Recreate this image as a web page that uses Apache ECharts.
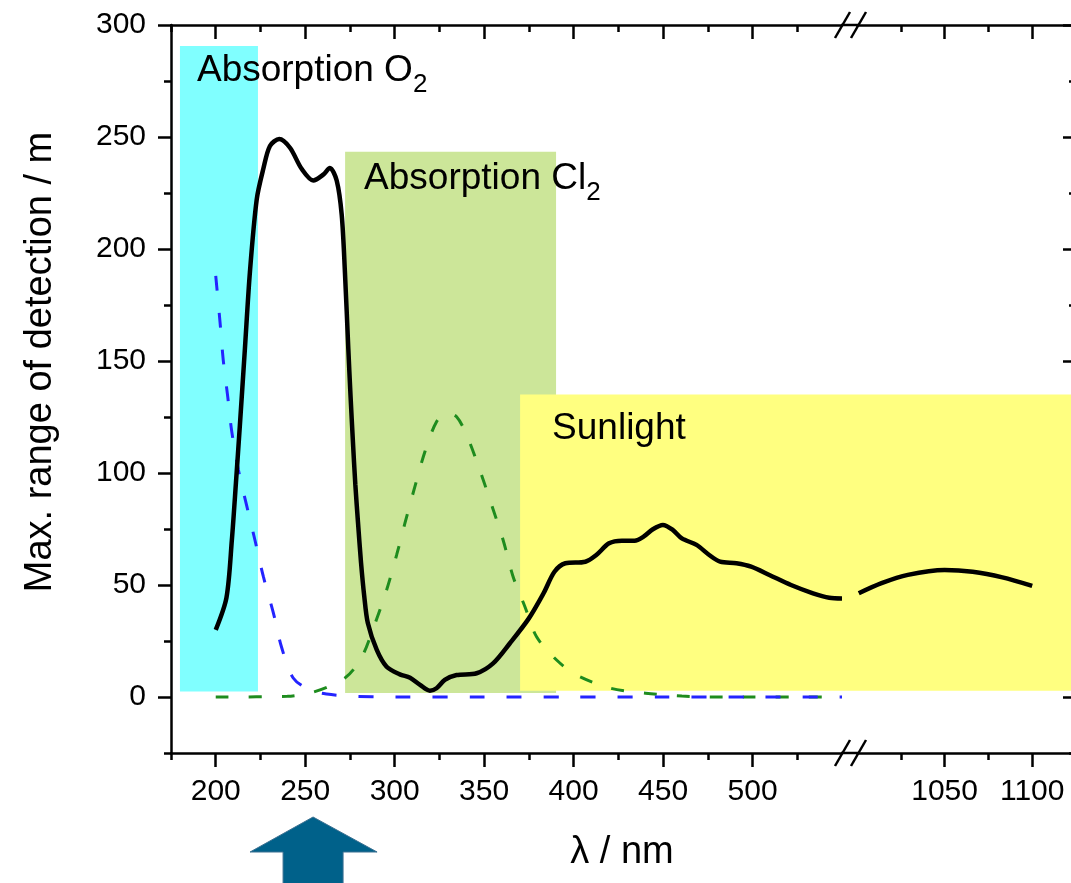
<!DOCTYPE html>
<html><head><meta charset="utf-8">
<script src="https://cdn.jsdelivr.net/npm/echarts@6/dist/echarts.min.js"></script>
<style>html,body{margin:0;padding:0;background:#fff}#c{width:1071px;height:883px}</style>
</head><body><div id="c"></div>
<script>
// ---------- data ----------
const blackLeftX = [200, 206, 209, 211.3, 213.5, 216.3, 219.1, 222.9, 226.6, 230.3, 235.5, 241.5, 248, 254.5, 260.1, 263.8, 267.6, 270.4, 272.2, 274.1, 275.3, 276.6, 278, 279.5, 281.2, 283, 285, 290, 295.5, 302.9, 308.6, 314.2, 319.7, 323.4, 328, 334.6, 345.8, 355, 364.4, 375, 383.2, 389.3, 395.4, 406.6, 412.7, 419.8, 427, 434.1, 439.1, 444.3, 449.9, 455.4, 460.5, 468.7, 475.8, 481.9, 491, 499.2, 509.4, 521.5, 533.8, 542.9, 550];
const blackLeftY = [30, 44.4, 70, 95.7, 121.4, 155.4, 189.7, 222.1, 235.8, 246, 249.1, 245.2, 235.8, 230.6, 233.2, 236.2, 230.6, 215.3, 189.7, 155.4, 135, 115, 95, 78, 60, 45, 33, 21, 13.5, 10.1, 8.6, 5.4, 2.8, 3.9, 7.6, 9.8, 10.6, 15, 24, 35.1, 46.3, 55.9, 59.7, 60.4, 63.4, 68.6, 69.8, 69.8, 71.6, 74.9, 76.8, 74.6, 70.8, 67.9, 63.4, 60.4, 59.7, 58.2, 54.5, 50, 46.3, 44.3, 44];
const blackRightX = [1001, 1014, 1029, 1050, 1066, 1083, 1100];
const blackRightY = [46.3, 50.8, 54.5, 56.7, 55.9, 53.4, 49.6];
const blueX = [200, 202.4, 204.2, 206.7, 208.9, 212.6, 217.3, 221.9, 226.6, 232.2, 236.8, 243.3, 252.6, 262, 275, 300, 350, 400, 450, 500, 550];
const blueY = [188, 167.4, 150.4, 134.1, 118.8, 101.7, 85.4, 70.1, 53.8, 37.6, 22.2, 8.5, 3.1, 1.3, 0.4, 0, 0, 0, 0, 0, 0];
const greenX = [200, 240, 252.7, 263.8, 272.2, 276.8, 282.4, 288, 295.5, 301.1, 305.7, 311.3, 316.9, 323.4, 329, 334.6, 340.2, 347.6, 354.2, 360.6, 366.2, 372.8, 379.3, 390.5, 401.6, 420.8, 440.2, 460.5, 480, 500, 550];
const greenY = [0, 0.3, 1.8, 4.9, 8.5, 12.1, 19, 30.5, 47.8, 63.4, 77.5, 93.9, 109.5, 122.9, 126.7, 125.1, 117, 101.3, 85.7, 70.1, 53.7, 40.3, 26.9, 16.5, 9.8, 3.9, 1.7, 0.4, 0, 0, 0];
// shaded bands: [xStart, xEnd, yBottom, yTop]
const o2Band = [180, 223.6, 2.5, 290.6];
const cl2Band = [272.3, 390.2, 1.8, 243.4];
const sunBand = [370.1, 1130, 2.8, 135];
// tick values
const leftMajorTicks = [200, 250, 300, 350, 400, 450, 500];
const leftMinorTicks = [175, 225, 275, 325, 375, 425, 475, 525];
const rightMajorTicks = [1050, 1100];
const rightMinorTicks = [1025, 1075];
const yMajorTicks = [0, 50, 100, 150, 200, 250, 300];
const yMinorTicks = [-25, 25, 75, 125, 175, 225, 275];
const arrowAt = 254.4;

// ---------- layout / style ----------
const FF = '"Liberation Sans", Arial, Helvetica, sans-serif';
const G1 = {left: 171, top: 25, width: 671, height: 728};
const G2 = {left: 857, top: 25, width: 219, height: 728};
const BREAK_GAP = G2.left - (G1.left + G1.width);
const AXW = 2.5;
const zip = (a, b) => a.map((v, i) => [v, b[i]]);

function axisDef(kind, grid, pos, min, max, ticks, len, inside, showLine, showLabels) {
  return {
    type: 'value', gridIndex: grid, position: pos, min: min, max: max,
    axisLine: {show: showLine, onZero: false, lineStyle: {color: '#000', width: AXW}},
    axisTick: {show: true, inside: inside, length: len, customValues: ticks, lineStyle: {color: '#000', width: AXW}},
    axisLabel: {show: showLabels, customValues: ticks, margin: kind === 'x' ? 24 : 25,
      fontSize: 30, fontFamily: FF, color: '#000', formatter: function (v) { return String(v); }},
    splitLine: {show: false}, minorTick: {show: false}
  };
}

const RICH = {
  n: {fontSize: 37, fontFamily: FF, color: '#000'},
  s: {fontSize: 26, fontFamily: FF, color: '#000', padding: [28, 0, 0, 0]}
};
const bandLabel = (fmt, off) => ({show: true, position: 'insideTopLeft', distance: 0, offset: off,
  formatter: fmt, rich: RICH, color: '#000'});

const chart = echarts.init(document.getElementById('c'), null, {renderer: 'canvas'});
const option = {
  animation: false,
  backgroundColor: '#fff',
  grid: [Object.assign({outerBoundsMode: 'none', containLabel: false}, G1),
         Object.assign({outerBoundsMode: 'none', containLabel: false}, G2)],
  xAxis: [
    axisDef('x', 0, 'bottom', 175, 550, leftMajorTicks, 14, false, true, true),
    axisDef('x', 0, 'bottom', 175, 550, leftMinorTicks, 7, false, false, false),
    axisDef('x', 0, 'top', 175, 550, leftMajorTicks, 14, true, true, false),
    axisDef('x', 0, 'top', 175, 550, leftMinorTicks, 7, true, false, false),
    axisDef('x', 1, 'bottom', 1000, 1125, rightMajorTicks, 14, false, true, true),
    axisDef('x', 1, 'bottom', 1000, 1125, rightMinorTicks, 7, false, false, false),
    axisDef('x', 1, 'top', 1000, 1125, rightMajorTicks, 14, true, true, false),
    axisDef('x', 1, 'top', 1000, 1125, rightMinorTicks, 7, true, false, false)
  ],
  yAxis: [
    axisDef('y', 0, 'left', -25, 300, yMajorTicks, 13, false, true, true),
    axisDef('y', 0, 'left', -25, 300, yMinorTicks, 7, false, false, false),
    axisDef('y', 1, 'right', -25, 300, yMajorTicks, 13, true, true, false),
    axisDef('y', 1, 'right', -25, 300, yMinorTicks, 7, true, false, false)
  ],
  series: [
    {
      type: 'line', xAxisIndex: 0, yAxisIndex: 0, data: [], silent: true, z: 1,
      markArea: {
        silent: true, z: 1,
        data: [
          [{xAxis: o2Band[0], yAxis: o2Band[3], itemStyle: {color: '#80ffff'},
            label: bandLabel('{n|Absorption O}{s|2}', [17, -2])},
           {xAxis: o2Band[1], yAxis: o2Band[2]}],
          [{xAxis: cl2Band[0], yAxis: cl2Band[3], itemStyle: {color: '#cce699'},
            label: bandLabel('{n|Absorption Cl}{s|2}', [19, 0])},
           {xAxis: cl2Band[1], yAxis: cl2Band[2]}],
          [{xAxis: sunBand[0], yAxis: sunBand[3], itemStyle: {color: '#ffff80'},
            label: bandLabel('{n|Sunlight}', [32, 16])},
           {xAxis: sunBand[1], yAxis: sunBand[2]}]
        ]
      }
    },
    {
      type: 'custom', xAxisIndex: 4, yAxisIndex: 2, z: 1, silent: true, clip: false,
      data: [sunBand], encode: {x: [0, 1], y: [2, 3]},
      renderItem: function (params, api) {
        const pa = api.coord([api.value(0), api.value(3)]);
        const pb = api.coord([api.value(1), api.value(2)]);
        const cs = params.coordSys;
        const left = Math.max(pa[0], cs.x - BREAK_GAP);
        const right = Math.min(pb[0], cs.x + cs.width);
        return {type: 'rect', shape: {x: left, y: pa[1], width: right - left, height: pb[1] - pa[1]},
          style: {fill: '#ffff80'}};
      }
    },
    {
      type: 'line', xAxisIndex: 0, yAxisIndex: 0, z: 3, data: zip(greenX, greenY),
      showSymbol: false, symbol: 'none', smooth: 0.3, silent: true,
      lineStyle: {color: '#1e8c1e', width: 3, type: [13, 20]}
    },
    {
      type: 'line', xAxisIndex: 0, yAxisIndex: 0, z: 3, data: zip(blueX, blueY),
      showSymbol: false, symbol: 'none', smooth: 0.3, silent: true,
      lineStyle: {color: '#2424ff', width: 3, type: [15, 22]}
    },
    {
      type: 'line', xAxisIndex: 0, yAxisIndex: 0, z: 4, data: zip(blackLeftX, blackLeftY),
      showSymbol: false, symbol: 'none', smooth: 0.3, silent: true,
      lineStyle: {color: '#000', width: 4.5}
    },
    {
      type: 'line', xAxisIndex: 4, yAxisIndex: 2, z: 4, data: zip(blackRightX, blackRightY),
      showSymbol: false, symbol: 'none', smooth: 0.3, silent: true,
      lineStyle: {color: '#000', width: 4.5}
    }
  ]
};
chart.setOption(option);

// ---------- decorations: axis-break marks, titles, arrow ----------
const gapL = G1.left + G1.width, gapR = G2.left;
const topY = G1.top, botY = G1.top + G1.height;
const els = [];
[topY, botY].forEach(function (yy) {
  els.push({type: 'line', shape: {x1: gapL - 1, y1: yy, x2: gapR + 1, y2: yy}, style: {stroke: '#000', lineWidth: AXW}, z: 10});
  [gapL + 0.5, gapR + 1.5].forEach(function (cx) {
    els.push({type: 'line', shape: {x1: cx - 7.5, y1: yy + 13, x2: cx + 7.5, y2: yy - 13},
      style: {stroke: '#000', lineWidth: AXW}, z: 11});
  });
});
els.push({type: 'text', x: 41, y: 362, rotation: Math.PI / 2, z: 10,
  style: {text: 'Max. range of detection / m', fontSize: 38, fontFamily: FF, fill: '#000', align: 'center', verticalAlign: 'middle'}});
els.push({type: 'text', x: 622, y: 853, z: 10,
  style: {text: 'λ / nm', fontSize: 38, fontFamily: FF, fill: '#000', align: 'center', verticalAlign: 'middle'}});
const ax = chart.convertToPixel({xAxisIndex: 0}, arrowAt);
els.push({type: 'polygon', z: 10, shape: {points: [[ax, 817], [ax + 64, 852], [ax + 30, 852], [ax + 30, 890], [ax - 30, 890], [ax - 30, 852], [ax - 63, 852]]},
  style: {fill: '#00618a', stroke: '#3b7091', lineWidth: 1}});
chart.setOption({graphic: {elements: els}});
</script>
</body></html>
